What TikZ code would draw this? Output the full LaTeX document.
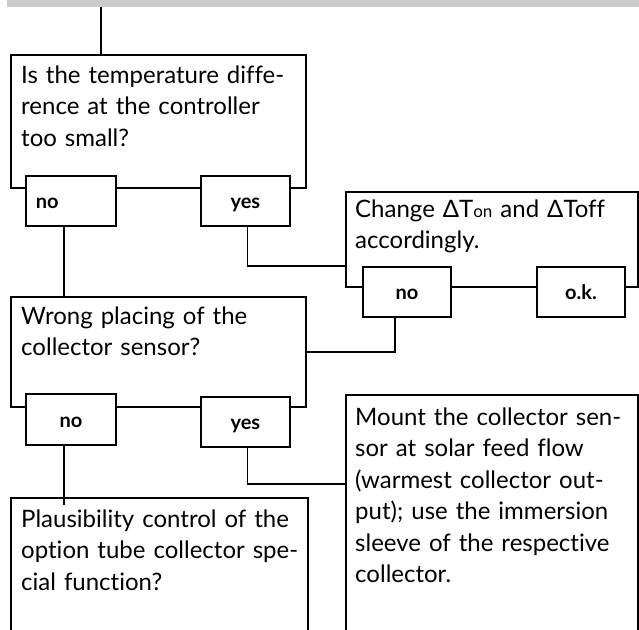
\documentclass[tikz,border=0pt]{standalone}
\usepackage{fontspec}
\setmainfont{Lato}[Ligatures=NoCommon]
\definecolor{barg}{HTML}{CCCCCC}
\begin{document}
\begin{tikzpicture}[x=1pt,y=-1pt,
  box/.style={draw, line width=1.8pt, inner sep=0pt, anchor=north west, fill=white},
  lbl/.style={draw, line width=1.8pt, inner sep=0pt, fill=white, anchor=north west,
    font=\fontsize{20}{20}\selectfont\bfseries, text height=16pt, text depth=0pt},
  txt/.style={anchor=base west, inner sep=0pt, align=left,
    font=\fontsize{24}{31.5}\selectfont},
  conn/.style={line width=1.8pt}]
\clip (0,0) rectangle (639,629);
\fill[barg] (7,0) rectangle (639,7);
% boxes
\node[box, minimum width=295pt, minimum height=133pt] (q1) at (10,54) {};
\node[lbl, minimum width=90pt, minimum height=50pt, text width=70pt, inner xsep=10pt] (q1no) at (25,175) {no};
\node[lbl, minimum width=89pt, minimum height=50pt] (q1yes) at (200,175) {yes};
\node[box, minimum width=292pt, minimum height=95pt] (a2) at (345,191) {};
\node[lbl, minimum width=88pt, minimum height=50pt] (a2no) at (362,266) {no};
\node[lbl, minimum width=88pt, minimum height=50pt] (a2ok) at (536,266) {o.k.};
\node[box, minimum width=295pt, minimum height=110pt] (q3) at (10,296) {};
\node[lbl, minimum width=90pt, minimum height=51pt] (q3no) at (25,393) {no};
\node[lbl, minimum width=89pt, minimum height=50pt] (q3yes) at (200,396) {yes};
\node[box, minimum width=297pt, minimum height=160pt] (q4) at (10,497) {};
\node[box, minimum width=292pt, minimum height=260pt] (a5) at (345,394) {};
% texts
\node[txt, text width=280pt] (t1) at (21,83) {Is the temperature diffe-\\rence at the controller\\too small?};
\node[txt, text width=273pt] (t2) at (355,217) {\makebox[273pt][s]{Change ΔT{\fontsize{17}{17}\selectfont on} and ΔToff}\\accordingly.};
\node[txt, text width=280pt] (t3) at (21,324) {Wrong placing of the\\collector sensor?};
\node[txt, text width=276pt] (t4) at (21,527) {\makebox[276pt][s]{Plausibility control of the}\\\makebox[276pt][s]{option tube collector spe-}\\cial function?};
\node[txt, text width=275pt] (t5) at (355,425) {\makebox[275pt][s]{Mount the collector sen-}\\\makebox[275pt][s]{sor at solar feed flow}\\\makebox[275pt][s]{(warmest collector out-}\\\makebox[275pt][s]{put); use the immersion}\\\makebox[275pt][s]{sleeve of the respective}\\collector.};
% connectors
\coordinate (top) at (101,7);
\draw[conn] (top) -- (top |- q1.north);
\coordinate (n1) at ([xshift=-7pt]q1no.south);
\draw[conn] (n1) -- (n1 |- q3.north);
\draw[conn] ([xshift=2pt]q1yes.south) |- ([yshift=22pt]a2.south west);
\coordinate (n2) at ([xshift=-12pt]a2no.south);
\draw[conn] (n2) |- (q3.east);
\coordinate (n3) at ([xshift=-7pt]q3no.south);
\draw[conn] (n3) -- ([yshift=-8pt]n3 |- q4.north);
\draw[conn] ([xshift=2pt]q3yes.south) |- ([yshift=-90pt]a5.north west);
\end{tikzpicture}
\end{document}
